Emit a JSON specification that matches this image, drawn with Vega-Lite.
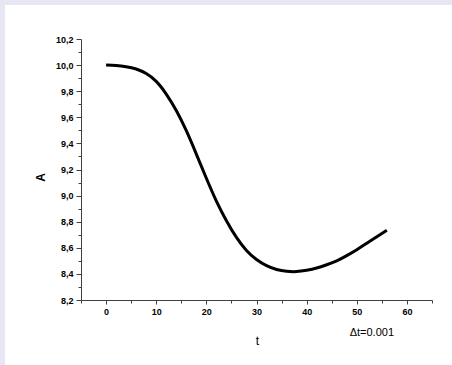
{
  "$schema": "https://vega.github.io/schema/vega-lite/v6.json",
  "width": 447,
  "height": 360,
  "autosize": {"type": "none"},
  "padding": {"left": 5, "top": 5, "right": 0, "bottom": 0},
  "background": "#e7e7f3",
  "config": {
    "view": {"fill": "white", "stroke": null},
    "axis": {
      "grid": false,
      "domainColor": "#404040",
      "tickColor": "#404040",
      "domainWidth": 1,
      "tickWidth": 1,
      "labelFont": "Liberation Sans",
      "labelFontWeight": "bold",
      "labelFontSize": 9,
      "labelColor": "#000000",
      "titleFont": "Liberation Sans",
      "titleColor": "#000000"
    }
  },
  "datasets": {
    "curve": [
      {"t": 0, "A": 10.0},
      {"t": 2, "A": 9.997},
      {"t": 4, "A": 9.988},
      {"t": 6, "A": 9.97},
      {"t": 8, "A": 9.935},
      {"t": 10, "A": 9.875},
      {"t": 12, "A": 9.778},
      {"t": 14, "A": 9.652},
      {"t": 16, "A": 9.497},
      {"t": 18, "A": 9.318},
      {"t": 20, "A": 9.133},
      {"t": 22, "A": 8.958},
      {"t": 24, "A": 8.808},
      {"t": 26, "A": 8.68},
      {"t": 28, "A": 8.58},
      {"t": 30, "A": 8.51},
      {"t": 32, "A": 8.463},
      {"t": 34, "A": 8.434},
      {"t": 36, "A": 8.42},
      {"t": 38, "A": 8.418},
      {"t": 40, "A": 8.428},
      {"t": 42, "A": 8.445},
      {"t": 44, "A": 8.47},
      {"t": 46, "A": 8.5},
      {"t": 48, "A": 8.54},
      {"t": 50, "A": 8.585},
      {"t": 52, "A": 8.635},
      {"t": 54, "A": 8.685},
      {"t": 56, "A": 8.735}
    ],
    "note": [{"t": 53, "A": 7.947, "label": "Δt=0.001"}]
  },
  "layer": [
    {
      "data": {"name": "curve"},
      "mark": {"type": "line", "color": "#000000", "strokeWidth": 3, "interpolate": "natural"},
      "encoding": {
        "x": {
          "field": "t", "type": "quantitative",
          "scale": {"domain": [-5, 65], "range": [76, 427], "nice": false, "zero": false},
          "axis": {
            "orient": "bottom", "offset": -65,
            "values": [0, 10, 20, 30, 40, 50, 60],
            "tickSize": 4, "labelPadding": 3,
            "title": "t", "titleFontWeight": "normal", "titleFontSize": 12,
            "titleX": 252, "titleY": 40, "titleAlign": "center", "titleBaseline": "middle"
          }
        },
        "y": {
          "field": "A", "type": "quantitative",
          "scale": {"domain": [8.2, 10.2], "range": [295, 34], "nice": false, "zero": false},
          "axis": {
            "orient": "left", "offset": -76,
            "values": [8.2, 8.4, 8.6, 8.8, 9.0, 9.2, 9.4, 9.6, 9.8, 10.0, 10.2],
            "labelExpr": "replace(format(datum.value, '.1f'), '.', ',')",
            "tickSize": 5, "labelPadding": 3,
            "title": "A", "titleFontWeight": "bold", "titleFontSize": 12,
            "titleX": -41, "titleY": 172, "titleAngle": -90, "titleAlign": "center", "titleBaseline": "middle"
          }
        }
      }
    },
    {
      "data": {"name": "curve"},
      "mark": {"type": "point", "opacity": 0},
      "encoding": {
        "x": {
          "field": "t", "type": "quantitative",
          "scale": {"domain": [-5, 65], "range": [76, 427], "nice": false, "zero": false},
          "axis": {
            "orient": "bottom", "offset": -65,
            "values": [-5, 5, 15, 25, 35, 45, 55, 65],
            "tickSize": 3, "labels": false, "domain": false, "title": null
          }
        },
        "y": {
          "field": "A", "type": "quantitative",
          "scale": {"domain": [8.2, 10.2], "range": [295, 34], "nice": false, "zero": false},
          "axis": {
            "orient": "left", "offset": -76,
            "values": [8.3, 8.5, 8.7, 8.9, 9.1, 9.3, 9.5, 9.7, 9.9, 10.1],
            "tickSize": 3, "labels": false, "domain": false, "title": null
          }
        }
      }
    },
    {
      "data": {"name": "note"},
      "mark": {"type": "text", "font": "Liberation Sans", "fontSize": 11, "color": "#000000", "align": "center", "baseline": "middle"},
      "encoding": {
        "x": {"field": "t", "type": "quantitative", "axis": null},
        "y": {"field": "A", "type": "quantitative", "axis": null},
        "text": {"field": "label"}
      }
    }
  ],
  "resolve": {"axis": {"x": "independent", "y": "independent"}}
}
